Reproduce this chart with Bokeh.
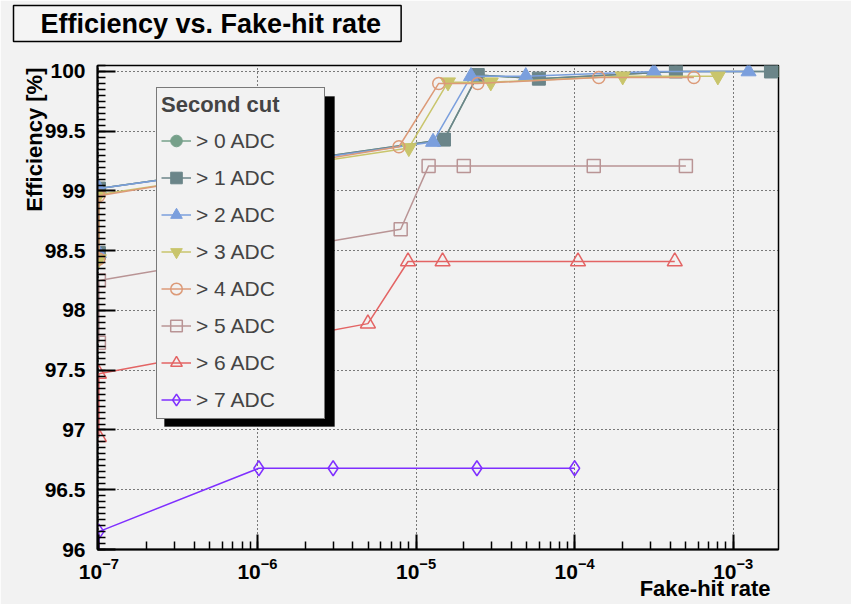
import numpy as np
from bokeh.plotting import figure
from bokeh.models import (Range1d, LogTicker, SingleIntervalTicker, CustomJSTickFormatter,
                          Legend, LegendItem, BoxAnnotation, Title)
from bokeh.embed import file_html
from bokeh.resources import INLINE

# ---------------- data ----------------
labels = ["> 0 ADC", "> 1 ADC", "> 2 ADC", "> 3 ADC", "> 4 ADC", "> 5 ADC", "> 6 ADC", "> 7 ADC"]

x_adc0 = [1e-7, 1e-7, 1.50e-5, 2.45e-5, 5.95e-5, 4.35e-4, 1.90e-3]
y_adc0 = [98.48, 99.02, 99.43, 99.97, 99.94, 100.0, 100.0]
x_adc1 = [1e-7, 1e-7, 1.50e-5, 2.45e-5, 5.95e-5, 4.35e-4, 1.73e-3]
y_adc1 = [98.48, 99.02, 99.43, 99.97, 99.94, 100.0, 100.0]
x_adc2 = [1e-7, 1e-7, 1.28e-5, 2.22e-5, 4.92e-5, 3.16e-4, 1.25e-3]
y_adc2 = [98.48, 99.02, 99.41, 99.96, 99.96, 100.0, 100.0]
x_adc3 = [1e-7, 1e-7, 9.0e-6, 1.59e-5, 2.96e-5, 2.01e-4, 8.0e-4]
y_adc3 = [98.43, 98.97, 99.36, 99.91, 99.91, 99.96, 99.96]
x_adc4 = [1e-7, 1e-7, 7.8e-6, 1.39e-5, 2.45e-5, 1.42e-4, 5.65e-4]
y_adc4 = [98.43, 98.96, 99.37, 99.90, 99.90, 99.95, 99.95]
x_adc5 = [1e-7, 1e-7, 8.0e-6, 1.2e-5, 2.0e-5, 1.32e-4, 5.03e-4]
y_adc5 = [97.73, 98.25, 98.68, 99.21, 99.21, 99.21, 99.21]
x_adc6 = [1e-7, 1e-7, 4.97e-6, 8.9e-6, 1.47e-5, 1.05e-4, 4.28e-4]
y_adc6 = [96.94, 97.47, 97.89, 98.41, 98.41, 98.41, 98.41]
x_adc7 = [1e-7, 1e-7, 1.02e-6, 3.0e-6, 2.42e-5, 1.0e-4]
y_adc7 = [95.8, 96.15, 96.68, 96.68, 96.68, 96.68]

xs = [x_adc0, x_adc1, x_adc2, x_adc3, x_adc4, x_adc5, x_adc6, x_adc7]
ys = [y_adc0, y_adc1, y_adc2, y_adc3, y_adc4, y_adc5, y_adc6, y_adc7]

# ---------------- style ----------------
colors = ["#76a08a", "#6b8589", "#7b9fdd", "#c9c56c", "#dc9a78", "#b99495", "#e36464", "#7f2fff"]
markers = ["circle", "square", "triangle", "inverted_triangle", "circle", "square", "triangle", "diamond"]
filled = [True, True, True, True, False, False, False, False]
sizes = [11, 13, 15, 15, 12, 13, 15, 15]

BG = "#f2f2f2"
FONT = "Liberation Sans"

p = figure(x_axis_type="log", frame_width=681, frame_height=484,
           min_border_left=97, min_border_right=73, min_border_top=64, min_border_bottom=56,
           x_range=Range1d(0.98e-7, 1.93e-3), y_range=Range1d(96.0, 100.05),
           output_backend="svg", toolbar_location=None)
p.background_fill_color = BG
p.border_fill_color = BG
p.outline_line_color = "black"
p.outline_line_width = 1.5

# title (box); a thin spacer between it and the frame lifts it to the top
p.title.text = "Efficiency vs. Fake-hit rate"
p.title.align = "left"
p.title.offset = -84
p.title.vertical_align = "top"
p.title.standoff = 10
p.title.text_font = FONT
p.title.text_font_style = "bold"
p.title.text_font_size = "27px"
p.title.text_color = "black"
p.title.background_fill_color = "#f4f4f4"
p.title.border_line_color = "black"
p.title.border_line_width = 1.5
p.title.padding = dict(left=27, right=20, top=3, bottom=3)
p.above = [Title(text=" ", text_font=FONT, text_font_size="8px", standoff=6)]

# axes
p.xaxis.ticker = LogTicker(mantissas=[1], desired_num_ticks=5, num_minor_ticks=10)
p.yaxis.ticker = SingleIntervalTicker(interval=0.5, num_minor_ticks=10)
p.yaxis.formatter = CustomJSTickFormatter(code="return String(Math.round(tick*10)/10);")
for ax in (p.xaxis[0], p.yaxis[0]):
    ax.axis_line_color = "black"
    ax.axis_line_width = 2
    ax.major_tick_line_color = "black"
    ax.minor_tick_line_color = "black"
    ax.major_tick_line_width = 2
    ax.minor_tick_line_width = 1.5
    ax.major_tick_out = 0
    ax.minor_tick_out = 0
    ax.minor_tick_in = 8
    ax.major_label_text_font = FONT
    ax.major_label_text_font_style = "bold"
    ax.major_label_text_font_size = "21px"
    ax.major_label_text_color = "black"
p.yaxis.major_tick_in = 18
p.xaxis.major_tick_in = 15
p.yaxis.major_label_standoff = 12
p.xaxis.major_label_standoff = 8

# axis titles (ROOT style: at the far ends of the axes)
p.add_layout(Title(text="Efficiency [%]", align="right", offset=2, standoff=-10,
                   text_font=FONT, text_font_style="bold", text_font_size="22px",
                   text_color="black"), "left")
p.add_layout(Title(text="Fake-hit rate", align="right", offset=8, vertical_align="top",
                   standoff=-12,
                   text_font=FONT, text_font_style="bold", text_font_size="22px",
                   text_color="black"), "below")

for g in (p.xgrid[0], p.ygrid[0]):
    g.grid_line_color = "black"
    g.grid_line_dash = "1 3"
    g.grid_line_width = 1

# series
items = []
for i in range(8):
    lr = p.line(xs[i], ys[i], line_color=colors[i], line_width=1.5)
    if filled[i]:
        sr = p.scatter(xs[i], ys[i], marker=markers[i], size=sizes[i],
                       fill_color=colors[i], line_color=colors[i], line_width=1)
    else:
        sr = p.scatter(xs[i], ys[i], marker=markers[i], size=sizes[i],
                       fill_color=None, line_color=colors[i], line_width=1.5)
    items.append(LegendItem(label=labels[i], renderers=[lr, sr]))

# legend shadow + legend (frame-relative screen units, y upward from frame bottom)
p.add_layout(BoxAnnotation(left=67, right=237, top=453, bottom=123,
                           left_units="screen", right_units="screen",
                           top_units="screen", bottom_units="screen",
                           fill_color="black", fill_alpha=1, line_color="black"))
legend = Legend(items=items, location=(59, 130), title="Second cut",
                title_text_font=FONT, title_text_font_style="bold", title_text_font_size="22px",
                label_text_font=FONT, label_text_font_size="21px",
                glyph_width=30, glyph_height=29, label_height=29, label_width=124,
                spacing=8, padding=4, margin=0, title_standoff=8, label_standoff=5,
                border_line_color="black", border_line_width=1.5,
                background_fill_color=BG, background_fill_alpha=1)
p.add_layout(legend)

open("out.html", "w").write(file_html(p, INLINE))
